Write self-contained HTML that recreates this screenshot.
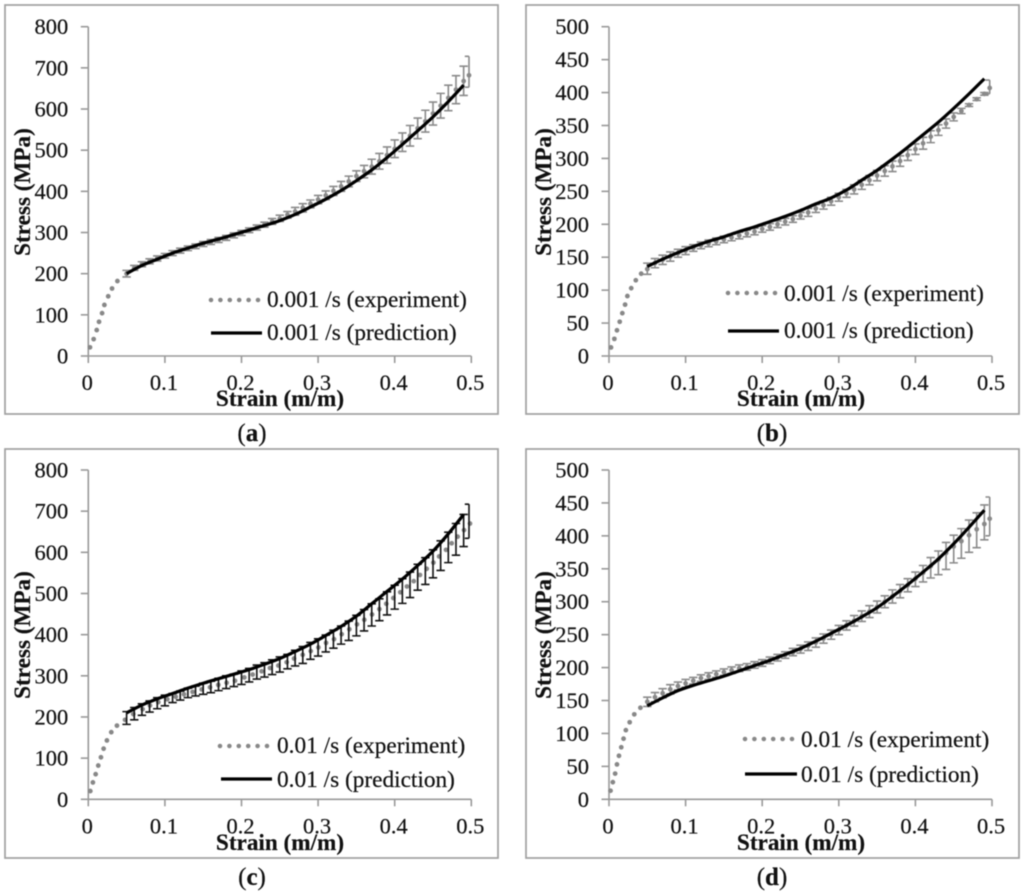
<!DOCTYPE html>
<html lang="en">
<head>
<meta charset="utf-8">
<title>Stress-strain curves: experiment vs prediction</title>
<style>
html,body{margin:0;padding:0;background:#fff;}
svg{display:block;filter:blur(0.45px);}
text{font-family:"Liberation Serif","Times New Roman",serif;fill:#111;stroke:#111;stroke-width:0.2;}
.tick{font-size:22.5px;}
.title{font-size:23.2px;font-weight:bold;}
.legend{font-size:23.3px;}
.caption{font-size:25px;}
.frame{fill:none;stroke:#a0a0a0;stroke-width:1.7;}
.lg-dots{stroke:#888;stroke-width:4.6;stroke-linecap:round;stroke-dasharray:0 9.4;fill:none;}
.lg-line{stroke:#000;stroke-width:3.2;fill:none;}
</style>
</head>
<body>
<svg width="1024" height="892" viewBox="0 0 1024 892" xmlns="http://www.w3.org/2000/svg">
<rect width="1024" height="892" fill="#fff"/>

<g id="panel-a">
  <rect class="frame" x="5" y="5" width="493" height="409"/>
  <g class="marks"></g>
  <text class="title" x="280" y="406" text-anchor="middle">Strain (m/m)</text>
  <text class="title" transform="translate(30,192) rotate(-90)" text-anchor="middle">Stress (MPa)</text>
  <line class="lg-dots" x1="211" y1="300" x2="258" y2="300"/>
  <text class="legend" x="267" y="307">0.001 /s (experiment)</text>
  <line class="lg-line" x1="211" y1="333" x2="262" y2="333"/>
  <text class="legend" x="267" y="340">0.001 /s (prediction)</text>
  <text class="caption" x="252" y="441" text-anchor="middle">(<tspan font-weight="bold">a</tspan>)</text>
</g>

<g id="panel-b">
  <rect class="frame" x="526" y="5" width="493" height="409"/>
  <g class="marks"></g>
  <text class="title" x="801" y="406" text-anchor="middle">Strain (m/m)</text>
  <text class="title" transform="translate(551,192) rotate(-90)" text-anchor="middle">Stress (MPa)</text>
  <line class="lg-dots" x1="728" y1="293" x2="775" y2="293"/>
  <text class="legend" x="784" y="301">0.001 /s (experiment)</text>
  <line class="lg-line" x1="728" y1="331" x2="779" y2="331"/>
  <text class="legend" x="784" y="338">0.001 /s (prediction)</text>
  <text class="caption" x="772" y="441" text-anchor="middle">(<tspan font-weight="bold">b</tspan>)</text>
</g>

<g id="panel-c">
  <rect class="frame" x="5" y="449" width="493" height="409"/>
  <g class="marks"></g>
  <text class="title" x="280" y="850" text-anchor="middle">Strain (m/m)</text>
  <text class="title" transform="translate(30,635) rotate(-90)" text-anchor="middle">Stress (MPa)</text>
  <line class="lg-dots" x1="220" y1="746" x2="268" y2="746"/>
  <text class="legend" x="277" y="753">0.01 /s (experiment)</text>
  <line class="lg-line" x1="221" y1="779" x2="272" y2="779"/>
  <text class="legend" x="277" y="787">0.01 /s (prediction)</text>
  <text class="caption" x="252" y="885" text-anchor="middle">(<tspan font-weight="bold">c</tspan>)</text>
</g>

<g id="panel-d">
  <rect class="frame" x="526" y="449" width="493" height="409"/>
  <g class="marks"></g>
  <text class="title" x="801" y="850" text-anchor="middle">Strain (m/m)</text>
  <text class="title" transform="translate(551,635) rotate(-90)" text-anchor="middle">Stress (MPa)</text>
  <line class="lg-dots" x1="745" y1="739" x2="794" y2="739"/>
  <text class="legend" x="801" y="747">0.01 /s (experiment)</text>
  <line class="lg-line" x1="745" y1="774" x2="797" y2="774"/>
  <text class="legend" x="801" y="782">0.01 /s (prediction)</text>
  <text class="caption" x="772" y="885" text-anchor="middle">(<tspan font-weight="bold">d</tspan>)</text>
</g>
</svg>

<script>
/* shared axis data */
var xTicks = [0, 0.1, 0.2, 0.3, 0.4, 0.5];
var yTicksLarge = [0, 100, 200, 300, 400, 500, 600, 700, 800];
var yTicksSmall = [0, 50, 100, 150, 200, 250, 300, 350, 400, 450, 500];
var barStrain = [0.05,0.06,0.07,0.08,0.09,0.10,0.11,0.12,0.13,0.14,0.15,0.16,0.17,0.18,0.19,0.20,0.21,0.22,0.23,0.24,0.25,0.26,0.27,0.28,0.29,0.30,0.31,0.32,0.33,0.34,0.35,0.36,0.37,0.38,0.39,0.40,0.41,0.42,0.43,0.44,0.45,0.46,0.47,0.48,0.49,0.497];
var predStrain = [0.05,0.07,0.09,0.11,0.13,0.15,0.17,0.19,0.21,0.23,0.25,0.27,0.29,0.31,0.33,0.35,0.37,0.39,0.41,0.43,0.45,0.47,0.49];

/* panel a */
var aDotStrain = [0.0022,0.007,0.011,0.014,0.018,0.021,0.026,0.031,0.038,0.05,0.06,0.07,0.08,0.09,0.10,0.11,0.12,0.13,0.14,0.15,0.16,0.17,0.18,0.19,0.20,0.21,0.22,0.23,0.24,0.25,0.26,0.27,0.28,0.29,0.30,0.31,0.32,0.33,0.34,0.35,0.36,0.37,0.38,0.39,0.40,0.41,0.42,0.43,0.44,0.45,0.46,0.47,0.48,0.49,0.497];
var aDotStress = [21,41,63,83,104,124,145,164,182,200,214,223,230,237,244,250,256,262,267,272,277,282,287,293,299,305,312,319,327,334,343,351,360,370,380,390,401,412,424,437,449,460,473,488,503,519,535,553,570,589,608,627,647,668,682];
var aBarHigh = [208,220,229,236,243,249,256,262,267,272,278,283,288,293,299,305,311,318,325,334,342,351,361,370,379,390,401,412,424,437,450,463,478,492,508,525,542,560,578,597,617,638,658,681,704,728];
var aBarLow = [192,208,217,224,231,238,244,250,256,261,266,271,276,281,287,293,300,306,313,320,327,335,342,350,360,370,380,390,400,411,424,433,442,454,468,482,497,510,528,544,561,578,596,613,633,653];
var aPred = [200,220,235,250,262,274,284,295,306,317,329,344,362,381,402,426,452,482,514,547,581,618,658];

/* panel b */
var bDotStrain = [0.0026,0.007,0.0104,0.014,0.0174,0.021,0.024,0.029,0.035,0.042,0.05,0.06,0.07,0.08,0.09,0.10,0.11,0.12,0.13,0.14,0.15,0.16,0.17,0.18,0.19,0.20,0.21,0.22,0.23,0.24,0.25,0.26,0.27,0.28,0.29,0.30,0.31,0.32,0.33,0.34,0.35,0.36,0.37,0.38,0.39,0.40,0.41,0.42,0.43,0.44,0.45,0.46,0.47,0.48,0.49,0.497];
var bDotStress = [13,26,39,52,65,78,91,103,115,125,132,141,146,151,156,160,164,168,171,174,177,180,183,186,189,193,196,200,204,208,213,218,224,229,235,241,247,253,260,267,274,281,288,296,305,314,323,333,343,353,363,372,381,390,398,407];
var bBarHigh = [141,148,153,158,162,166,169,173,176,179,182,185,188,191,194,198,201,205,209,213,218,224,230,235,241,247,253,260,267,274,282,289,296,304,313,322,332,342,351,360,369,376,383,392,400,419];
var bBarLow = [124,134,139,144,150,154,159,163,166,169,172,175,178,181,184,188,191,195,199,203,208,212,218,223,229,235,241,246,253,260,266,273,280,288,297,306,314,324,335,346,357,368,379,388,396,398];
var bPred = [136,147,157,166,174,181,189,196,204,212,221,231,240,252,267,282,299,317,336,355,376,398,421];

/* panel c */
var cDotStrain = [0.0026,0.006,0.0096,0.013,0.0165,0.02,0.0243,0.03,0.0374,0.048,0.0587,0.0709,0.0805,0.0914,0.1032,0.1141,0.1249,0.1362,0.148,0.1589,0.1697,0.1806,0.1915,0.2037,0.2146,0.2263,0.2372,0.2481,0.259,0.2686,0.2799,0.2904,0.3004,0.3104,0.3208,0.3308,0.3408,0.3508,0.3603,0.3704,0.38,0.389,0.3982,0.4073,0.416,0.4249,0.433,0.4418,0.4505,0.458,0.467,0.4744,0.4822,0.4905,0.4983];
var cDotStress = [20,41,61,82,102,123,143,163,179,193,207,219,228,236,243,249,255,261,267,272,278,283,288,296,303,311,319,325,333,342,351,360,369,380,389,401,413,425,436,449,462,475,489,503,517,530,545,560,575,590,606,622,638,654,670];
var cBarHigh = [213,223,232,239,247,253,257,263,270,275,282,287,294,300,304,312,318,326,332,339,346,352,362,371,381,390,399,411,421,433,447,461,475,487,504,520,536,552,571,587,606,628,649,670,692,717];
var cBarLow = [182,193,204,212,220,227,235,241,247,251,255,259,264,269,274,279,285,292,297,303,309,317,324,330,340,348,358,367,377,386,397,409,421,434,448,462,476,490,508,522,538,556,575,593,614,634];
var cPred = [210,229,244,257,270,282,293,304,315,328,342,359,377,398,420,445,475,505,535,568,603,645,692];

/* panel d */
var dDotStrain = [0.002,0.005,0.008,0.0104,0.013,0.016,0.019,0.022,0.027,0.033,0.041,0.05,0.06,0.07,0.08,0.09,0.10,0.11,0.12,0.13,0.14,0.15,0.16,0.17,0.18,0.19,0.20,0.21,0.22,0.23,0.24,0.25,0.26,0.27,0.28,0.29,0.30,0.31,0.32,0.33,0.34,0.35,0.36,0.37,0.38,0.39,0.40,0.41,0.42,0.43,0.44,0.45,0.46,0.47,0.48,0.49,0.497];
var dDotStress = [13,26,39,53,66,79,92,105,117,129,139,148,155,161,167,172,176,180,184,187,190,193,196,199,201,204,207,211,215,219,223,228,233,238,244,250,257,264,271,278,285,292,300,308,316,325,335,344,354,364,374,384,392,401,410,418,426];
var dBarHigh = [155,162,168,174,178,182,185,189,192,195,198,201,204,206,209,212,216,220,224,229,234,239,245,251,257,264,271,279,286,294,301,309,318,326,335,345,355,367,377,390,401,411,424,435,447,459];
var dBarLow = [141,148,154,160,166,170,175,179,182,185,188,191,194,196,199,202,206,210,214,218,222,226,231,237,243,250,257,263,270,276,283,291,298,306,315,323,330,336,341,349,359,366,375,382,394,400];
var dPred = [142,154,165,173,180,187,195,203,211,220,229,240,252,264,277,291,308,326,345,365,388,413,439];

var SVGNS = 'http://www.w3.org/2000/svg';

function make(parent, tag) {
  var el = document.createElementNS(SVGNS, tag);
  parent.appendChild(el);
  return el;
}

/* Smooth path through the data points (Catmull-Rom to cubic Bezier). */
function smoothPath(px, py) {
  var d = 'M' + px[0] + ' ' + py[0];
  for (var i = 0; i < px.length - 1; i++) {
    var a = Math.max(i - 1, 0), b = Math.min(i + 2, px.length - 1);
    d += 'C' + (px[i] + (px[i + 1] - px[a]) / 6) + ' ' + (py[i] + (py[i + 1] - py[a]) / 6) +
         ' ' + (px[i + 1] - (px[b] - px[i]) / 6) + ' ' + (py[i + 1] - (py[b] - py[i]) / 6) +
         ' ' + px[i + 1] + ' ' + py[i + 1];
  }
  return d;
}

function drawPanel(id, opts) {
  var root = document.querySelector('#' + id + ' .marks');
  var x0 = opts.left, x1 = opts.left + 383, y0 = opts.bottom, y1 = opts.bottom - 329.3;
  var xMax = 0.5, yMax = opts.yTicks[opts.yTicks.length - 1];
  function sx(v) { return x0 + (v / xMax) * (x1 - x0); }
  function sy(v) { return y0 - (v / yMax) * (y0 - y1); }
  var axisColor = '#999';

  /* axes */
  var xAxis = make(root, 'line');
  
  
  xAxis.setAttribute('x1', x0); xAxis.setAttribute('x2', x1);
  xAxis.setAttribute('y1', y0); xAxis.setAttribute('y2', y0);
  xAxis.setAttribute('stroke', axisColor); xAxis.setAttribute('stroke-width', '1.6');

  var yAxis = make(root, 'line');
  
  
  yAxis.setAttribute('x1', x0); yAxis.setAttribute('x2', x0);
  yAxis.setAttribute('y1', y0); yAxis.setAttribute('y2', y1);
  yAxis.setAttribute('stroke', axisColor); yAxis.setAttribute('stroke-width', '1.6');

  xTicks.forEach(function (t) {
    var m = make(root, 'line');
    
    
    m.setAttribute('x1', sx(t)); m.setAttribute('x2', sx(t));
    m.setAttribute('y1', y0); m.setAttribute('y2', y0 + 7);
    m.setAttribute('stroke', axisColor); m.setAttribute('stroke-width', '1.6');
    var l = make(root, 'text');
    
    
    l.setAttribute('class', 'tick');
    l.setAttribute('x', sx(t) - 1); l.setAttribute('y', y0 + 34);
    l.setAttribute('text-anchor', 'middle');
    l.textContent = String(t);
  });

  opts.yTicks.forEach(function (t) {
    var m = make(root, 'line');
    
    
    m.setAttribute('x1', x0 - 7.5); m.setAttribute('x2', x0);
    m.setAttribute('y1', sy(t)); m.setAttribute('y2', sy(t));
    m.setAttribute('stroke', axisColor); m.setAttribute('stroke-width', '1.6');
    var l = make(root, 'text');
    
    
    l.setAttribute('class', 'tick');
    l.setAttribute('x', x0 - 20); l.setAttribute('y', sy(t) + 7.5);
    l.setAttribute('text-anchor', 'end');
    l.textContent = String(t);
  });

  /* experiment points */
  opts.dotStrain.forEach(function (s, i) {
    var c = make(root, 'circle');
    
    
    c.setAttribute('cx', sx(s)); c.setAttribute('cy', sy(opts.dotStress[i]));
    c.setAttribute('r', '2.4'); c.setAttribute('fill', '#888');
  });

  /* error bars */
  barStrain.forEach(function (s, i) {
    var g = make(root, 'path');
    
    
    var X = sx(s), hi = sy(opts.barHigh[i]), lo = sy(opts.barLow[i]);
    var w = 4.2;
    var last = i === barStrain.length - 1;
    var left = X - w;
    var right = last ? X : X + w;
    g.setAttribute('d', 'M' + left + ' ' + hi + 'H' + right + 'M' + X + ' ' + hi + 'V' + lo + 'M' + left + ' ' + lo + 'H' + right);
    g.setAttribute('fill', 'none');
    g.setAttribute('stroke', opts.barColor);
    g.setAttribute('stroke-width', '1.6');
  });

  /* prediction curve */
  var p = make(root, 'path');
  
  
  p.setAttribute('d', smoothPath(predStrain.map(sx), opts.pred.map(sy)));
  p.setAttribute('fill', 'none');
  p.setAttribute('stroke', '#000');
  p.setAttribute('stroke-width', '3.2');
  p.setAttribute('stroke-linejoin', 'round');
}

drawPanel('panel-a', {left: 88.3, bottom: 356, yTicks: yTicksLarge, dotStrain: aDotStrain, dotStress: aDotStress, barHigh: aBarHigh, barLow: aBarLow, pred: aPred, barColor: '#8a8a8a'});
drawPanel('panel-b', {left: 609, bottom: 356, yTicks: yTicksSmall, dotStrain: bDotStrain, dotStress: bDotStress, barHigh: bBarHigh, barLow: bBarLow, pred: bPred, barColor: '#8a8a8a'});
drawPanel('panel-c', {left: 88.3, bottom: 799.3, yTicks: yTicksLarge, dotStrain: cDotStrain, dotStress: cDotStress, barHigh: cBarHigh, barLow: cBarLow, pred: cPred, barColor: '#111'});
drawPanel('panel-d', {left: 609, bottom: 799.3, yTicks: yTicksSmall, dotStrain: dDotStrain, dotStress: dDotStress, barHigh: dBarHigh, barLow: dBarLow, pred: dPred, barColor: '#8a8a8a'});
</script>
</body>
</html>
